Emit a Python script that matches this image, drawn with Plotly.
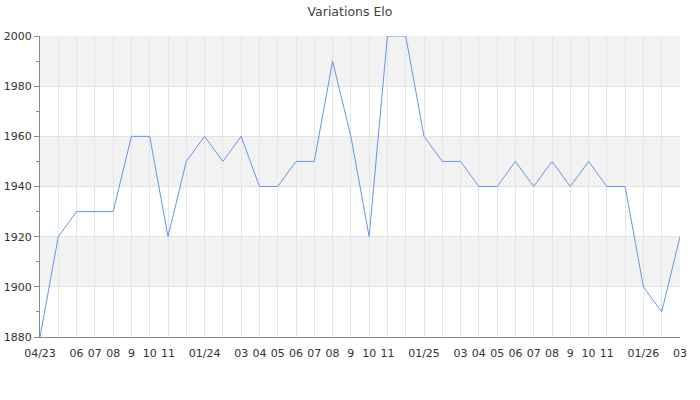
import plotly.graph_objects as go

months = ["04/23", "05", "06", "07", "08", "9", "10", "11", "12",
          "01/24", "02", "03", "04", "05", "06", "07", "08", "9", "10", "11", "12",
          "01/25", "02", "03", "04", "05", "06", "07", "08", "9", "10", "11", "12",
          "01/26", "02", "03"]
shown = [True, False, True, True, True, True, True, True, False,
         True, False, True, True, True, True, True, True, True, True, True, False,
         True, False, True, True, True, True, True, True, True, True, True, False,
         True, False, True]
elo = [1880, 1920, 1930, 1930, 1930, 1960, 1960, 1920, 1950,
       1960, 1950, 1960, 1940, 1940, 1950, 1950, 1990, 1960, 1920, 2000, 2000,
       1960, 1950, 1950, 1940, 1940, 1950, 1940, 1950, 1940, 1950, 1940, 1940,
       1900, 1890, 1920]
y_ticks = [1880, 1900, 1920, 1940, 1960, 1980, 2000]

x = list(range(len(months)))
ticktext = [m if s else "" for m, s in zip(months, shown)]

fig = go.Figure()
fig.add_trace(go.Scatter(x=x, y=elo, mode="lines",
                         line=dict(color="#6495ED", width=1),
                         hoverinfo="x+y", showlegend=False))

shapes = []
for i in range(len(y_ticks) - 1):
    if (len(y_ticks) - 2 - i) % 2 == 0:
        shapes.append(dict(type="rect", xref="paper", yref="y", x0=0, x1=1,
                           y0=y_ticks[i], y1=y_ticks[i + 1],
                           fillcolor="#f2f2f2", line=dict(width=0), layer="below"))

fig.update_layout(
    width=700, height=400,
    margin=dict(l=40, r=20, t=36, b=63, autoexpand=False),
    paper_bgcolor="white", plot_bgcolor="white",
    font=dict(family="DejaVu Sans", size=11, color="#333"),
    title=dict(text="Variations Elo", x=0.5, xanchor="center", y=0.97, yanchor="middle",
               font=dict(family="DejaVu Sans", size=12.5, color="#444")),
    shapes=shapes,
    xaxis=dict(range=[0, len(months) - 1], tickvals=x, ticktext=ticktext,
               tickangle=0, showgrid=True, gridcolor="#e5e5e5", gridwidth=1,
               showline=True, linecolor="#888", linewidth=1, ticks="",
               ticklabelstandoff=6, automargin=False,
               zeroline=False, tickfont=dict(size=11, color="#333")),
    yaxis=dict(range=[1880, 2000], tickvals=y_ticks, showgrid=True,
               gridcolor="#e3e3e3", gridwidth=1, showline=True, linecolor="#888",
               linewidth=1, ticks="outside", ticklen=5, tickcolor="#888",
               automargin=False,
               minor=dict(dtick=10, tick0=1880, ticks="outside", ticklen=3,
                          tickcolor="#888", showgrid=False),
               zeroline=False, tickfont=dict(size=11, color="#333")),
)

fig.write_html("out.html", config={"displayModeBar": False},
               post_script="document.body.style.margin='0';document.body.style.overflow='hidden';")
